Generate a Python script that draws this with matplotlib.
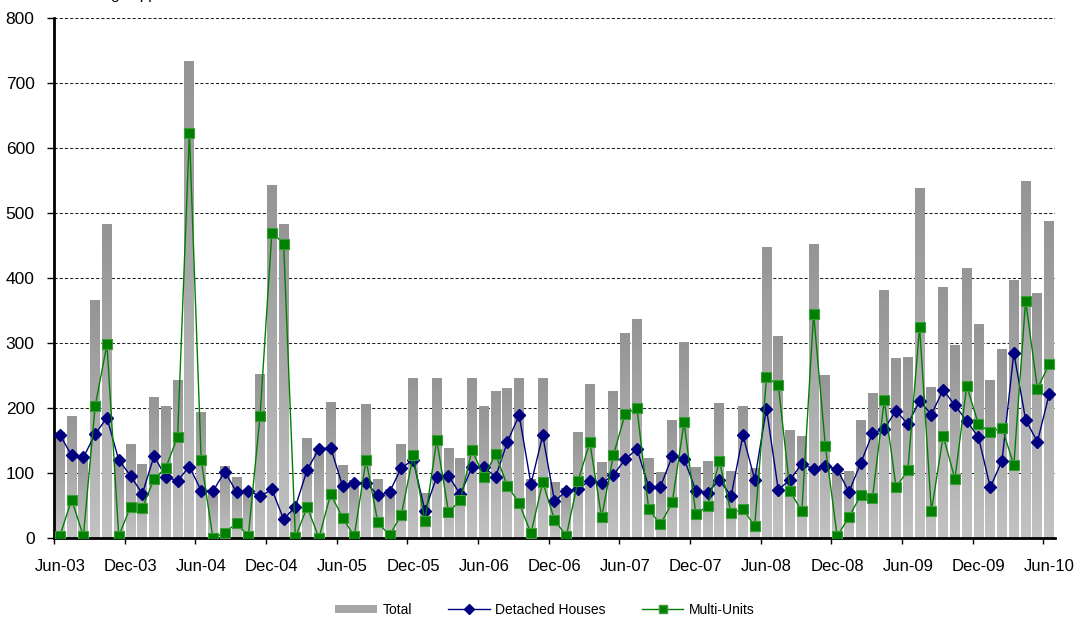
import numpy as np
import matplotlib
matplotlib.use('Agg')
from matplotlib import pyplot as plt
from matplotlib.colors import LinearSegmentedColormap
from matplotlib.lines import Line2D
from matplotlib.patches import Patch

plt.rcParams['font.family'] = ['Liberation Sans', 'DejaVu Sans']

tick_labels = ['Jun-03', 'Dec-03', 'Jun-04', 'Dec-04', 'Jun-05', 'Dec-05', 'Jun-06', 'Dec-06',
               'Jun-07', 'Dec-07', 'Jun-08', 'Dec-08', 'Jun-09', 'Dec-09', 'Jun-10']

# monthly values, Jun-03 .. Jun-10
total = [163, 187, 127, 366, 483, 123, 144, 113, 216, 203, 243, 733, 193, 72, 110, 93, 75,
         251, 543, 482, 50, 153, 138, 208, 112, 88, 206, 90, 75, 144, 246, 68, 246, 138, 123,
         246, 203, 226, 230, 246, 90, 246, 86, 76, 163, 236, 116, 226, 315, 336, 123, 100,
         181, 301, 109, 118, 207, 103, 203, 107, 447, 310, 166, 156, 452, 250, 109, 103, 181,
         223, 381, 276, 277, 537, 231, 386, 296, 415, 329, 243, 290, 396, 548, 376, 487]
detached = [159, 127, 124, 160, 185, 120, 96, 68, 126, 94, 88, 110, 73, 72, 102, 71, 73, 64,
            75, 29, 48, 105, 137, 139, 80, 85, 85, 66, 71, 108, 120, 42, 94, 96, 67, 109, 109,
            94, 148, 189, 83, 158, 57, 72, 76, 88, 84, 97, 121, 137, 79, 79, 126, 122, 73, 70,
            89, 65, 158, 90, 199, 74, 90, 114, 106, 111, 106, 71, 115, 161, 168, 196, 175, 211,
            190, 228, 204, 180, 155, 78, 119, 285, 182, 148, 221]
multi = [3, 59, 3, 203, 298, 3, 48, 46, 91, 108, 156, 623, 120, 0, 8, 23, 3, 188, 470, 453, 1,
         48, 0, 68, 31, 3, 120, 24, 4, 36, 127, 26, 151, 40, 58, 136, 94, 129, 80, 54, 7, 86,
         28, 3, 88, 147, 32, 127, 191, 200, 44, 21, 55, 178, 37, 49, 118, 38, 45, 18, 247, 236,
         72, 41, 345, 141, 3, 32, 66, 62, 212, 78, 104, 325, 41, 157, 91, 234, 175, 163, 170,
         112, 365, 230, 267]

x = np.arange(len(total))

fig = plt.figure(figsize=(10.79, 6.17), dpi=100)
ax = fig.add_axes([0.050, 0.128, 0.9278, 0.8428])

# grey bars, light at the bottom and darker at the top
grey = LinearSegmentedColormap.from_list('bar_grey', ['#c2c2c2', '#959595'])
gradient = np.linspace(0, 1, 64).reshape(-1, 1)
bars = ax.bar(x, total, width=0.84, color='none', edgecolor='none', zorder=1)
for bar in bars:
    x0, y0 = bar.get_x(), bar.get_y()
    ax.imshow(gradient, extent=[x0, x0 + bar.get_width(), y0, y0 + bar.get_height()],
              origin='lower', aspect='auto', cmap=grey, zorder=1)

ax.plot(x, detached, color='#000080', lw=1.0, marker='D', ms=6.5,
        mfc='#000080', mec='#000080', zorder=3)
ax.plot(x, multi, color='#008000', lw=1.0, marker='s', ms=7,
        mfc='#008000', mec='#3c9c3c', mew=0.8, zorder=4)

ax.set_xlim(-0.5, 84.5)
ax.set_ylim(0, 800)
ax.set_yticks(range(0, 801, 100))
ax.yaxis.grid(True, linestyle=(0, (3, 2)), color='#202020', lw=0.75)
ax.set_axisbelow(True)

ax.set_xticks(np.arange(0, 85, 6))
ax.set_xticklabels(tick_labels)
ax.set_xticks(np.arange(-0.5, 84, 6), minor=True)
ax.tick_params(axis='x', which='major', length=0, pad=15, labelsize=12)
ax.tick_params(axis='x', which='minor', length=4, width=1, direction='out')
ax.tick_params(axis='y', length=5, width=1, pad=9, labelsize=12.5)

for side in ['top', 'right']:
    ax.spines[side].set_visible(False)
for side in ['left', 'bottom']:
    ax.spines[side].set_linewidth(2)

# title sits above the top edge, only its descenders show, as in the source
fig.text(0.057, 1.0 + 1 / 617, 'Dwellings approved', fontsize=11, va='baseline')

handles = [Patch(facecolor='#a6a6a6', edgecolor='none'),
           Line2D([], [], color='#000080', lw=1.0, marker='D', ms=5, mfc='#000080', mec='#000080'),
           Line2D([], [], color='#008000', lw=1.0, marker='s', ms=6, mfc='#008000', mec='#3c9c3c')]
fig.legend(handles, ['Total', 'Detached Houses', 'Multi-Units'], loc='center',
           bbox_to_anchor=(0.505, 0.012), ncol=3, frameon=False, fontsize=10,
           handlelength=3.0, handleheight=0.5, columnspacing=2.6, handletextpad=0.4)

fig.savefig('out.png', dpi=100)
